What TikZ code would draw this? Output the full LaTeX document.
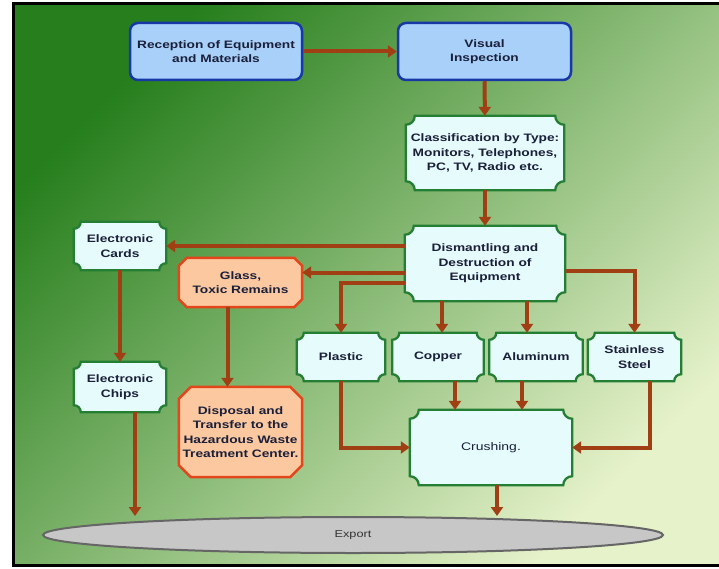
\documentclass[tikz,border=0pt]{standalone}
\usepackage{fontspec}
\setmainfont{Liberation Sans}[FakeStretch=1.27]
\usetikzlibrary{positioning,arrows.meta,backgrounds,shapes.geometric}
\definecolor{rust}{RGB}{160,62,20}
\definecolor{boxblue}{RGB}{24,56,168}
\definecolor{skyfill}{RGB}{168,208,248}
\definecolor{leafgreen}{RGB}{36,126,52}
\definecolor{icefill}{RGB}{230,251,251}
\definecolor{redorange}{RGB}{226,70,26}
\definecolor{peach}{RGB}{251,200,160}
\definecolor{inkblue}{RGB}{26,31,58}
\definecolor{bgdark}{RGB}{38,126,28}
\definecolor{bgmid}{RGB}{136,180,78}
\definecolor{bglight}{RGB}{230,242,202}

\begin{document}
\begin{tikzpicture}[x=1pt,y=1pt,
  box/.style={draw=boxblue,fill=skyfill,line width=2.5pt,rounded corners=8pt,align=center,minimum width=172pt,minimum height=57pt,inner sep=0pt,font=\fontsize{10.8}{14}\selectfont\bfseries,text=inkblue},
  gbox/.style={align=center,inner sep=0pt,font=\fontsize{10.8}{14.5}\selectfont\bfseries,text=inkblue},
  gshape/.style={draw=leafgreen,fill=icefill,line width=2.3pt},
  oshape/.style={draw=redorange,fill=peach,line width=2.5pt},
  arr/.style={-{Triangle[length=9pt,width=12pt]},line width=4pt,draw=rust}]
\useasboundingbox (0,0) rectangle (719,-569);
% background and frame
\begin{scope}[on background layer]
\fill[white] (0,0) rectangle (719,-569);
\shade[top color=bgdark,middle color=bgmid,bottom color=bglight,shading angle=45] (13,-4) rectangle (719,-565);
\draw[line width=3pt] (719,-4) -- (13,-4) -- (13,-565) -- (719,-565);
\end{scope}
% nodes
\node[box] (recep) at (216,-51.5) {Reception of Equipment\\and Materials};
\node[box,minimum width=173pt] (visual) at (484.5,-51.5) {Visual\\Inspection};
\node[gbox,minimum width=158pt,minimum height=74pt] (classify) at (485,-153) {Classification by Type:\\Monitors, Telephones,\\PC, TV, Radio etc.};
\node[gbox,minimum width=160pt,minimum height=75pt] (dismantle) at (485,-263.5) {Dismantling and\\Destruction of\\Equipment};
\node[gbox,minimum width=92pt,minimum height=48pt] (cards) at (120,-246) {Electronic\\Cards};
\node[gbox,minimum width=123pt,minimum height=49pt] (glass) at (240.5,-282.5) {Glass,\\Toxic Remains};
\node[gbox,minimum width=88pt,minimum height=48pt] (plastic) at (341,-357) {Plastic};
\node[gbox,minimum width=91pt,minimum height=48pt] (copper) at (438,-357) {Copper};
\node[gbox,minimum width=93pt,minimum height=48pt] (alum) at (536,-357) {Aluminum};
\node[gbox,minimum width=93pt,minimum height=48pt] (steel) at (634.5,-357) {Stainless\\Steel};
\node[gbox,minimum width=92pt,minimum height=50pt] (chips) at (120,-387) {Electronic\\Chips};
\node[gbox,minimum width=123pt,minimum height=90pt] (disposal) at (240.5,-432) {Disposal and\\Transfer to the\\Hazardous Waste\\Treatment Center.};
\node[gbox,minimum width=162pt,minimum height=75pt,font=\fontsize{11}{14}\selectfont] (crushing) at (491,-447.5) {Crushing.};
\node[ellipse,draw=black!60,fill=black!22,line width=2pt,minimum width=620pt,minimum height=36pt,inner sep=0pt,font=\fontsize{10}{12}\selectfont,text=black!80] (export) at (353,-535) {Export};
% box outlines behind the text
\begin{scope}[on background layer]
\foreach \n/\r in {classify/9,dismantle/9,cards/7,chips/7,plastic/7,copper/7,alum/7,steel/7,crushing/9}
  \filldraw[gshape] ([xshift=\r pt]\n.north west) -- ([xshift=-\r pt]\n.north east)
    arc[start angle=180,end angle=270,radius=\r pt] -- ([yshift=\r pt]\n.south east)
    arc[start angle=90,end angle=180,radius=\r pt] -- ([xshift=\r pt]\n.south west)
    arc[start angle=0,end angle=90,radius=\r pt] -- ([yshift=-\r pt]\n.north west)
    arc[start angle=270,end angle=360,radius=\r pt] -- cycle;
\foreach \n/\r in {glass/8,disposal/12}
  \filldraw[oshape] ([xshift=\r pt]\n.north west) -- ([xshift=-\r pt]\n.north east) -- ([yshift=-\r pt]\n.north east)
    -- ([yshift=\r pt]\n.south east) -- ([xshift=-\r pt]\n.south east) -- ([xshift=\r pt]\n.south west)
    -- ([yshift=\r pt]\n.south west) -- ([yshift=-\r pt]\n.north west) -- cycle;
\end{scope}
% connectors
\coordinate (dg) at ([yshift=-9pt]dismantle.west);
\coordinate (dp) at ([yshift=-19pt]dismantle.west);
\coordinate (ds) at ([yshift=-7pt]dismantle.east);
\coordinate (cu) at ([xshift=17pt]copper.south);
\coordinate (al) at ([xshift=-14pt]alum.south);
\coordinate (st) at ([xshift=15pt]steel.south);
\coordinate (ch) at ([xshift=15pt]chips.south);
\coordinate (gl) at ([xshift=-13pt]glass.south);
\coordinate (cr) at ([xshift=6pt]crushing.south);
\draw[arr] (recep) -- (visual);
\draw[arr] (visual) -- (classify);
\draw[arr] (classify) -- (dismantle);
\draw[arr] (dismantle.west |- cards.east) -- (cards.east);
\draw[arr] (dg) -- (dg -| glass.east);
\draw[arr] (dp) -| (plastic.north);
\draw[arr] ([xshift=4pt]copper.north |- dismantle.south) -- ([xshift=4pt]copper.north);
\draw[arr] ([xshift=-9pt]alum.north |- dismantle.south) -- ([xshift=-9pt]alum.north);
\draw[arr] (ds) -| (steel.north);
\draw[arr] (cards) -- (chips);
\draw[arr] (gl) -- (gl |- disposal.north);
\draw[arr] (ch) -- (ch |- export.north);
\draw[arr] (plastic.south) |- (crushing.west);
\draw[arr] (cu) -- (cu |- crushing.north);
\draw[arr] (al) -- (al |- crushing.north);
\draw[arr] (st) |- (crushing.east);
\draw[arr] (cr) -- (cr |- export.north);
\end{tikzpicture}
\end{document}
